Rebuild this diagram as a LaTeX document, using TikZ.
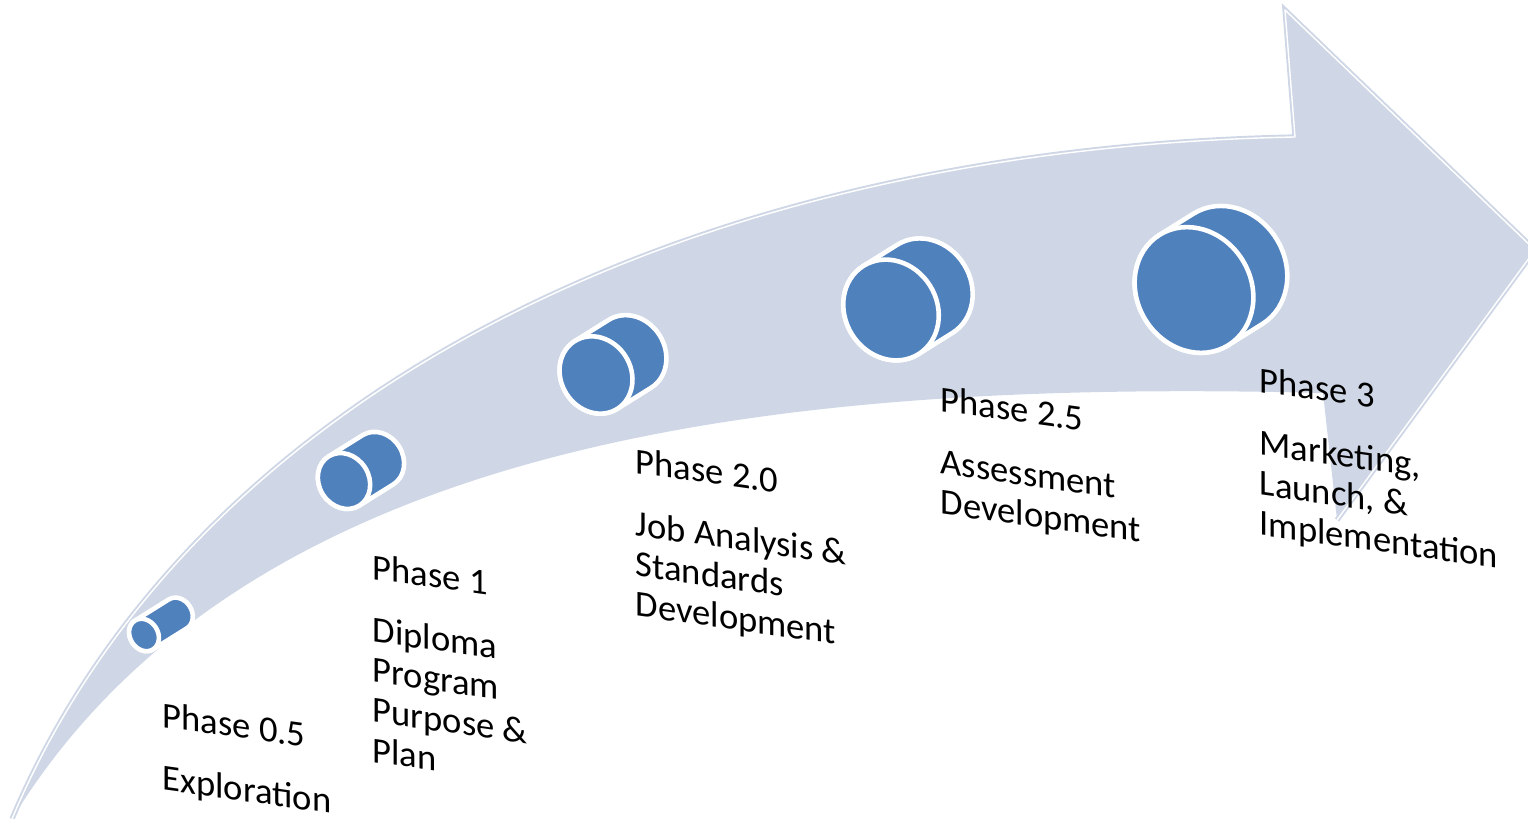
\documentclass[tikz,border=0pt]{standalone}
\usepackage{fontspec}
\setmainfont{Carlito}
\usepackage{tikz}

\definecolor{bandblue}{RGB}{207,215,230}
\definecolor{cylblue}{RGB}{79,129,189}

\begin{document}
\begin{tikzpicture}[x=0.01cm,y=0.01cm,
  rim/.style={draw=white, line width=0.4pt,
    preaction={draw=bandblue, line width=1.5pt}},
  cylbody/.style={fill=cylblue, draw=white, line width=1.3pt},
  cylface/.style={fill=cylblue, draw=white, line width=1.3pt},
  phase/.style={anchor=north west, inner sep=0pt, yslant=-0.14, align=left,
    font=\fontsize{10.4}{11.4}\selectfont}]
\useasboundingbox (0,0) rectangle (1528,-819);
\clip (0,0) rectangle (1528,-819);

% the curved arrow
\fill[bandblue] (12,-819) .. controls (180,-420) and (650,-150) .. (1295,-137)
  -- (1285,-10) -- (1535,-250) -- (1337,-520) -- (1323,-393)
  .. controls (800,-380) and (250,-430) .. (12,-819) -- cycle;
% light rim on the upper side and the head
\draw[rim, line join=round] (12,-819) .. controls (180,-420) and (650,-150) .. (1295,-137)
  -- (1285,-10) -- (1535,-250) -- (1337,-520);

% cylinders, growing along the arrow
\foreach \nm/\cx/\cy/\ra/\rb in {c05/144/635/14/17, c1/344/481/25/29,
    c20/596/375/35/40, c25/891/310/46/52, c3/1194/290/57/65} {
  \begin{scope}[shift={(\cx,-\cy)}, rotate=32]
    \coordinate (\nm) at (0,0);
    \path[cylbody] (0,\rb) -- (40,\rb)
      arc[start angle=90, end angle=-90, x radius=\ra, y radius=\rb]
      -- (0,-\rb)
      arc[start angle=-90, end angle=-270, x radius=\ra, y radius=\rb] -- cycle;
    \path[cylface] (0,0) ellipse[x radius=\ra, y radius=\rb];
  \end{scope}
}

% labels
\node[phase] (ph05) at (162,-701) {Phase 0.5\\[6.4pt]Exploration};
\node[phase] (ph1) at (372,-553) {Phase 1\\[6.4pt]Diploma\\Program\\Purpose \&\\Plan};
\node[phase] (ph20) at (635,-447) {Phase 2.0\\[6.4pt]Job Analysis \&\\Standards\\Development};
\node[phase] (ph25) at (940,-385) {Phase 2.5\\[6.4pt]Assessment\\Development};
\node[phase] (ph3) at (1259,-366) {Phase 3\\[6.4pt]Marketing,\\Launch, \&\\Implementation};
\end{tikzpicture}
\end{document}
